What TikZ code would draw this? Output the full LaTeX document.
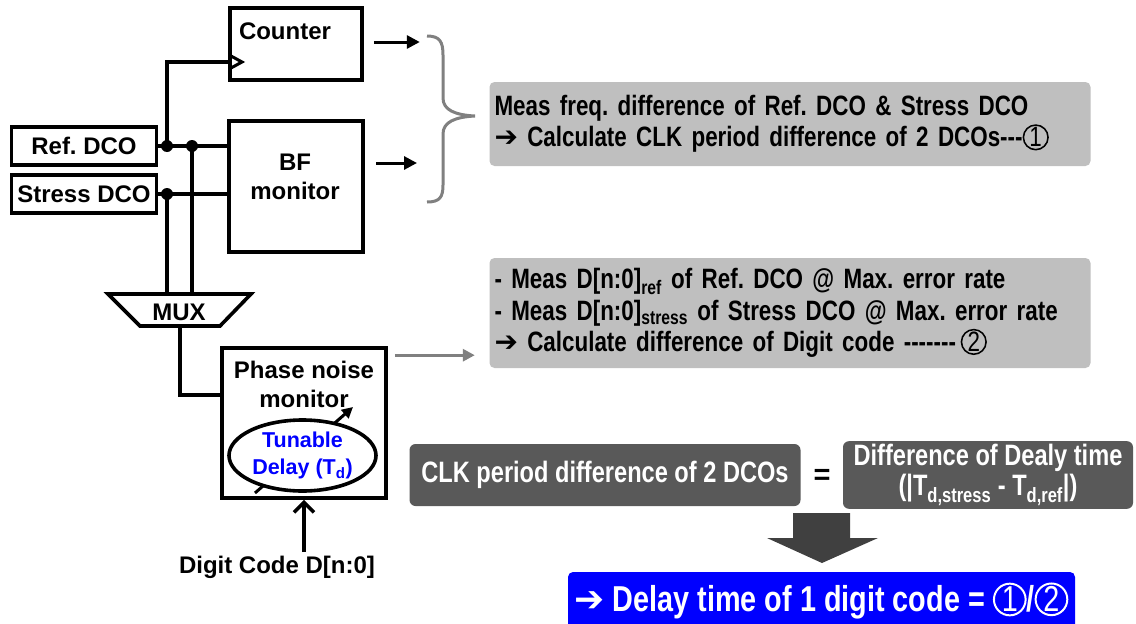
\documentclass[tikz,border=0pt]{standalone}
\usepackage{fontspec}
\setmainfont{Liberation Sans}
\newfontfamily\narrowfont{Liberation Sans}[FakeStretch=0.80]
\newfontfamily\symfont{DejaVu Sans}
\usetikzlibrary{arrows.meta,shapes.geometric,positioning}
\definecolor{notegray}{RGB}{191,191,191}
\definecolor{darkbox}{RGB}{89,89,89}
\definecolor{lightline}{RGB}{128,128,128}
\definecolor{bigarrow}{RGB}{64,64,64}
\definecolor{tuneblue}{RGB}{0,0,255}
\newcommand{\dsh}{\mbox{-}}
\newcommand{\arr}{{\symfont ➔}}
\newcommand{\cnum}[1]{\tikz[baseline=(c.base)]\node[circle, draw, line width=0.055em, inner sep=0pt,
  minimum size=0.88em, font=\mdseries] (c) {#1};}
\begin{document}
\frenchspacing
\begin{tikzpicture}[x=1pt,y=-1pt,
  wire/.style={line width=3.6pt},
  blk/.style={draw, line width=3.6pt, inner sep=0pt},
  lbl/.style={font=\fontsize{24}{29}\selectfont\bfseries, align=center, inner sep=0pt},
  outarr/.style={line width=3pt, -{Triangle[length=13pt,width=13pt]}},
  grayarr/.style={line width=3pt, lightline, -{Triangle[length=12pt,width=12pt]}},
  note/.style={fill=notegray, rounded corners=5pt, inner xsep=5pt, align=left, text width=591pt,
    font=\narrowfont\bfseries\fontsize{28}{31.5}\selectfont},
  dark/.style={fill=darkbox, rounded corners=6pt, text=white, align=center,
    font=\narrowfont\bfseries\fontsize{29.5}{30}\selectfont},
  dot/.style={circle, fill, inner sep=0pt, minimum size=12pt}]
  \useasboundingbox (0,0) rectangle (1136,624);

  % DCOs, counter and BF monitor
  \node[blk, lbl, minimum width=145pt, minimum height=38pt] (ref) at (84,146) {Ref. DCO};
  \node[blk, lbl, minimum width=145pt, minimum height=38pt] (stress) at (84,194) {Stress DCO};
  \node[blk, minimum width=132pt, minimum height=72pt] (counter) at (296,44) {};
  \node[lbl] (countertxt) at (285,31) {Counter};
  \node[blk, minimum width=134pt, minimum height=131pt] (bf) at (296,186.5) {};
  \node[lbl] (bftxt) at (295,177) {BF\\monitor};
  \draw[line width=3pt] (231,56) -- (242,62) -- (231,68);

  \coordinate (clk) at (231,62);
  \coordinate (ja) at (167,146);
  \coordinate (jb) at (192,146);
  \coordinate (jc) at (167,194);
  \coordinate (muxtop) at (180,294);
  \draw[wire] (ref.east) -- (bf.west |- ref.east);
  \draw[wire] (stress.east) -- (bf.west |- stress.east);
  \draw[wire] (ja) |- (clk);
  \draw[wire] (jc) -- (jc |- muxtop);
  \draw[wire] (jb) -- (jb |- muxtop);
  \node[dot] (dota) at (ja) {};
  \node[dot] (dotb) at (jb) {};
  \node[dot] (dotc) at (jc) {};

  % MUX
  \draw[wire] (108,294) -- (251,294) -- (220,326) -- (140,326) -- cycle;
  \node[lbl] (mux) at (179,312) {MUX};
  \coordinate (muxout) at (180,326);

  % phase noise monitor
  \node[blk, minimum width=164pt, minimum height=150pt] (pn) at (304,423) {};
  \node[lbl] (pntxt) at (304,384) {Phase noise\\monitor};
  \coordinate (pnin) at (222,395);
  \draw[wire] (muxout) |- (pnin);
  \coordinate (tunetail) at (255,493);
  \coordinate (tunehead) at (353,407);
  \draw[line width=3pt, -{Triangle[length=11pt,width=11pt]}] (tunetail) -- (tunehead);
  \node[ellipse, draw, fill=white, line width=3.6pt, minimum width=147pt, minimum height=71pt,
    inner sep=0pt, text=tuneblue, font=\fontsize{21.5}{27}\selectfont\bfseries, align=center]
    (delay) at (302.5,455.5) {Tunable\\Delay (T\textsubscript{d})};
  \node[lbl] (code) at (277,567) {Digit Code D[n:0]};
  \coordinate (codetop) at (304,552);
  \draw[line width=3.6pt, -{Straight Barb[length=10pt,width=20pt]}] (codetop) -- (pn.south);

  % outputs
  \coordinate (bfout) at (376,163);
  \draw[outarr] ([xshift=10pt,yshift=2pt]counter.east) -- ++(46,0);
  \draw[outarr] (bfout) -- ++(41,0);
  \draw[lightline, line width=3pt] (427,36) .. controls (440,36) and (443,42) .. (443,55) -- (443,98)
    .. controls (443,110) and (455,115) .. (475,116) .. controls (455,117) and (443,122) .. (443,134)
    -- (443,185) .. controls (443,197) and (440,202) .. (427,202);
  \draw[grayarr] ([xshift=7pt,yshift=-9pt]pn.north east) -- ++(80,0);

  % notes
  \node[note, minimum height=84pt] (meas1) at (790,124)
    {Meas freq. difference of Ref. DCO \& Stress DCO\\
     \arr\ Calculate CLK period difference of 2 DCOs\dsh\dsh\dsh\cnum{1}};
  \node[note, minimum height=110pt] (meas2) at (790,313)
    {- Meas D[n:0]\textsubscript{ref} of Ref. DCO @ Max. error rate\\
     - Meas D[n:0]\textsubscript{stress} of Stress DCO @ Max. error rate\\
     \arr\ Calculate difference of Digit code \dsh\dsh\dsh\dsh\dsh\dsh\dsh\,\cnum{2}};

  % equation
  \node[dark, minimum width=391pt, minimum height=62pt] (clkdiff) at (605,475) {CLK period difference of 2 DCOs};
  \node[font=\fontsize{29}{31}\selectfont\bfseries] (eq) at (822,477) {=};
  \node[dark, minimum width=290pt, minimum height=62pt] (dlydiff) at (988,475)
    {Difference of Dealy time\\(|T\textsubscript{d,stress} - T\textsubscript{d,ref}|)};
  \fill[bigarrow] (793,513) -- (850,513) -- (850,538) -- (878,538) -- (822,563) -- (767,538) -- (793,538) -- cycle;
  \node[fill=tuneblue, rounded corners=5pt, minimum width=507pt, minimum height=58pt, text=white,
    font=\narrowfont\bfseries\fontsize{36}{40}\selectfont] (result) at (821.5,601)
    {\arr\ Delay time of 1 digit code = \cnum{1}/\cnum{2}};
\end{tikzpicture}
\end{document}
